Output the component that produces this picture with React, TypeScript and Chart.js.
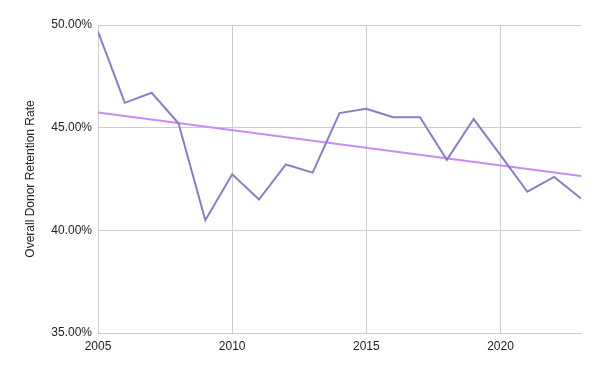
import React, { useEffect, useRef } from "react";
import { Chart, registerables } from "chart.js";

Chart.register(...registerables);

const years = [2005, 2006, 2007, 2008, 2009, 2010, 2011, 2012, 2013, 2014, 2015, 2016, 2017, 2018, 2019, 2020, 2021, 2022, 2023];
const retention = [49.68, 46.21, 46.7, 45.21, 40.49, 42.73, 41.5, 43.21, 42.81, 45.71, 45.92, 45.51, 45.51, 43.43, 45.42, 43.66, 41.88, 42.6, 41.55];
const trendYears = [2005, 2023];
const trendValues = [45.74, 42.64];
const xTicks = [2005, 2010, 2015, 2020];
const yTicks = [35, 40, 45, 50];
const yTitle = "Overall Donor Retention Rate";

export default function App() {
  const ref = useRef<HTMLCanvasElement | null>(null);

  useEffect(() => {
    document.body.style.margin = "0";
    const canvas = ref.current;
    if (!canvas) return;
    const font = { family: "'Liberation Sans', Arial, sans-serif", size: 12 };
    const chart = new Chart(canvas, {
      type: "line",
      data: {
        datasets: [
          {
            label: "Retention",
            data: years.map((y, i) => ({ x: y, y: retention[i] })),
            borderColor: "#8e7cc3",
            borderWidth: 2,
            pointRadius: 0,
            tension: 0,
          },
          {
            label: "Trend",
            data: trendYears.map((y, i) => ({ x: y, y: trendValues[i] })),
            borderColor: "#c98af8",
            borderWidth: 2,
            pointRadius: 0,
            tension: 0,
          },
        ],
      },
      options: {
        animation: false,
        responsive: false,
        maintainAspectRatio: false,
        layout: { padding: { left: 0, right: 19, top: 25, bottom: 0 } },
        plugins: { legend: { display: false }, tooltip: { enabled: false } },
        scales: {
          x: {
            type: "linear",
            min: 2005,
            max: 2023,
            afterBuildTicks: (scale: any) => {
              scale.ticks = xTicks.map((v) => ({ value: v }));
            },
            afterFit: (scale: any) => {
              scale.height = 38;
            },
            grid: { color: "#cccccc", drawTicks: false },
            border: { color: "#cccccc" },
            ticks: {
              color: "#222222",
              font,
              padding: 6,
              maxRotation: 0,
              callback: (v: any) => String(v),
            },
          },
          y: {
            min: 35,
            max: 50,
            afterBuildTicks: (scale: any) => {
              scale.ticks = yTicks.map((v) => ({ value: v }));
            },
            afterFit: (scale: any) => {
              scale.width = 98;
            },
            grid: { color: "#cccccc", drawTicks: false },
            border: { color: "#cccccc" },
            ticks: {
              color: "#222222",
              font,
              padding: 6,
              callback: (v: any) => Number(v).toFixed(2) + "%",
            },
            title: {
              display: true,
              text: yTitle,
              color: "#222222",
              font,
              padding: { top: 23, bottom: 0 },
            },
          },
        },
      },
    });
    return () => chart.destroy();
  }, []);

  return (
    <div style={{ position: "absolute", left: 0, top: 0, width: 600, height: 371, background: "#ffffff" }}>
      <canvas ref={ref} width={600} height={371} style={{ width: 600, height: 371 }} />
    </div>
  );
}
